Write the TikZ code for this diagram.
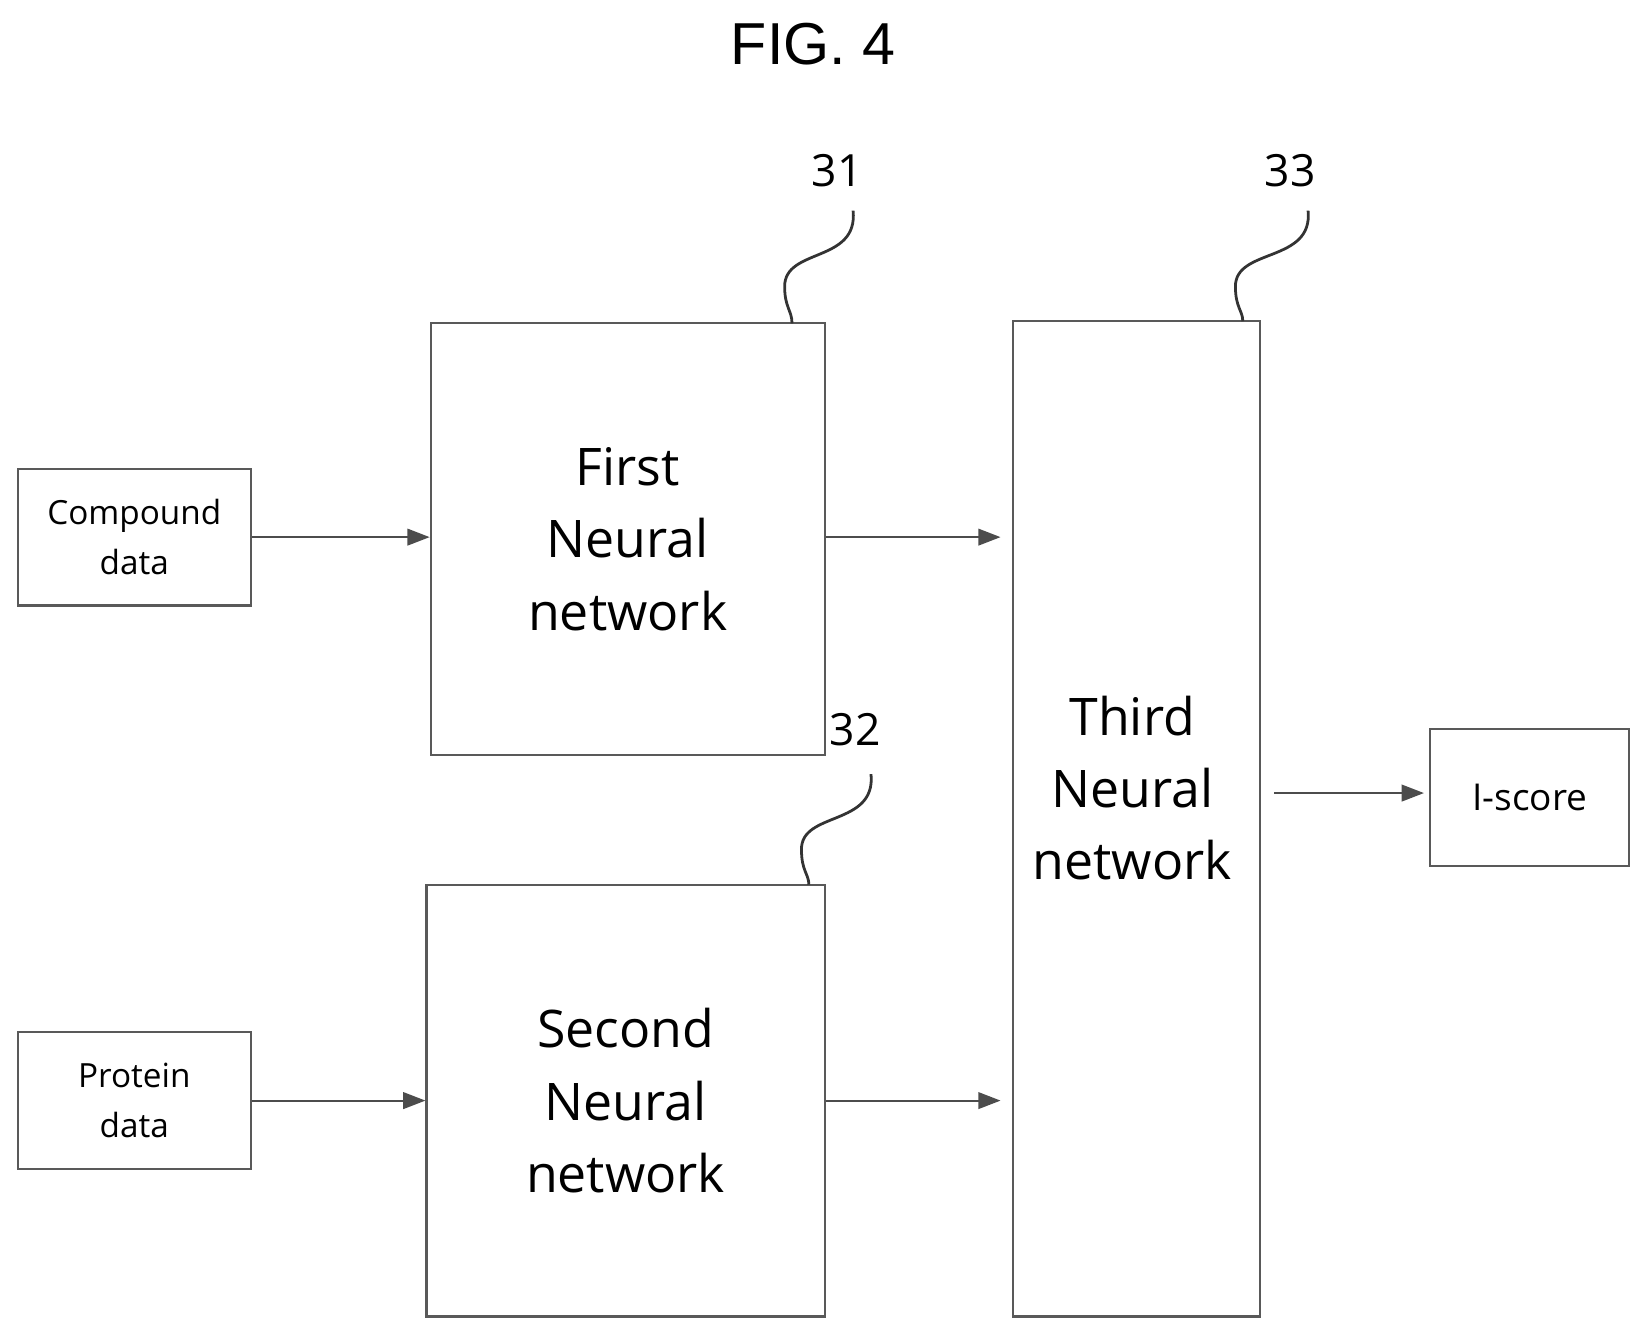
\documentclass[tikz,border=0pt]{standalone}
\usepackage{fontspec}
\setmainfont{Open Sans}
\newfontfamily\titlefont{Liberation Sans}
\usetikzlibrary{arrows.meta}
\begin{document}
\begin{tikzpicture}[x=0.02cm,y=-0.02cm,
  box/.style={draw=black!65,line width=1.2pt,inner sep=0pt,align=center},
  big/.style={font=\fontsize{28}{39}\selectfont},
  small/.style={font=\fontsize{18}{27}\selectfont},
  arr/.style={draw=black!70,line width=1pt,-{Triangle[length=12pt,width=9pt]}},
  lead/.style={draw=black!80,line width=1.5pt},
  num/.style={font=\fontsize{24}{24}\selectfont}]
\useasboundingbox (0,0) rectangle (1560,1266);
\node[font=\titlefont\fontsize{32}{32}\selectfont] (title) at (772,42) {FIG. 4};
\node[box,small,minimum width=221*0.02cm,minimum height=130*0.02cm] (cd) at (127.5,510) {Compound\\data};
\node[box,small,minimum width=221*0.02cm,minimum height=130*0.02cm] (pd) at (127.5,1045) {Protein\\data};
\node[box,big,minimum width=374*0.02cm,minimum height=410*0.02cm] (n1) at (596,512) {First\\Neural\\network};
\node[box,big,minimum width=378*0.02cm,minimum height=410*0.02cm] (n2) at (594,1045) {Second\\Neural\\network};
\node[box,minimum width=234*0.02cm,minimum height=945*0.02cm] (n3) at (1079,777.5) {};
\node[big,align=center] (n3t) at (1075,748) {Third\\Neural\\network};
\node[box,font=\fontsize{20}{24}\selectfont,minimum width=189*0.02cm,minimum height=130*0.02cm] (is) at (1452.5,757) {I-score};
\coordinate (a1) at (950,510); \coordinate (a2) at (950,1045);
\coordinate (o3) at (1210,753); \coordinate (i3) at (1352,753);
\draw[arr] (cd.east) -- (n1.west|-cd.east);
\draw[arr] (pd.east) -- (n2.west|-pd.east);
\draw[arr] (n1.east|-a1) -- (a1);
\draw[arr] (n2.east|-a2) -- (a2);
\draw[arr] (o3) -- (i3);
\node[num] (l31) at (795,162) {31};
\node[num] (l32) at (812,693) {32};
\node[num] (l33) at (1225,162) {33};
\coordinate (t31) at (752,307); \coordinate (t32) at (768,840); \coordinate (t33) at (1180,305);
\draw[lead] (810,200) .. controls (815,250) and (745,235) .. (745,272) .. controls (745,292) and (752,295) .. (t31);
\draw[lead] (827,735) .. controls (832,785) and (760,770) .. (761,807) .. controls (761,827) and (768,830) .. (t32);
\draw[lead] (1242,200) .. controls (1247,250) and (1173,235) .. (1173,272) .. controls (1173,292) and (1180,295) .. (t33);
\end{tikzpicture}
\end{document}
